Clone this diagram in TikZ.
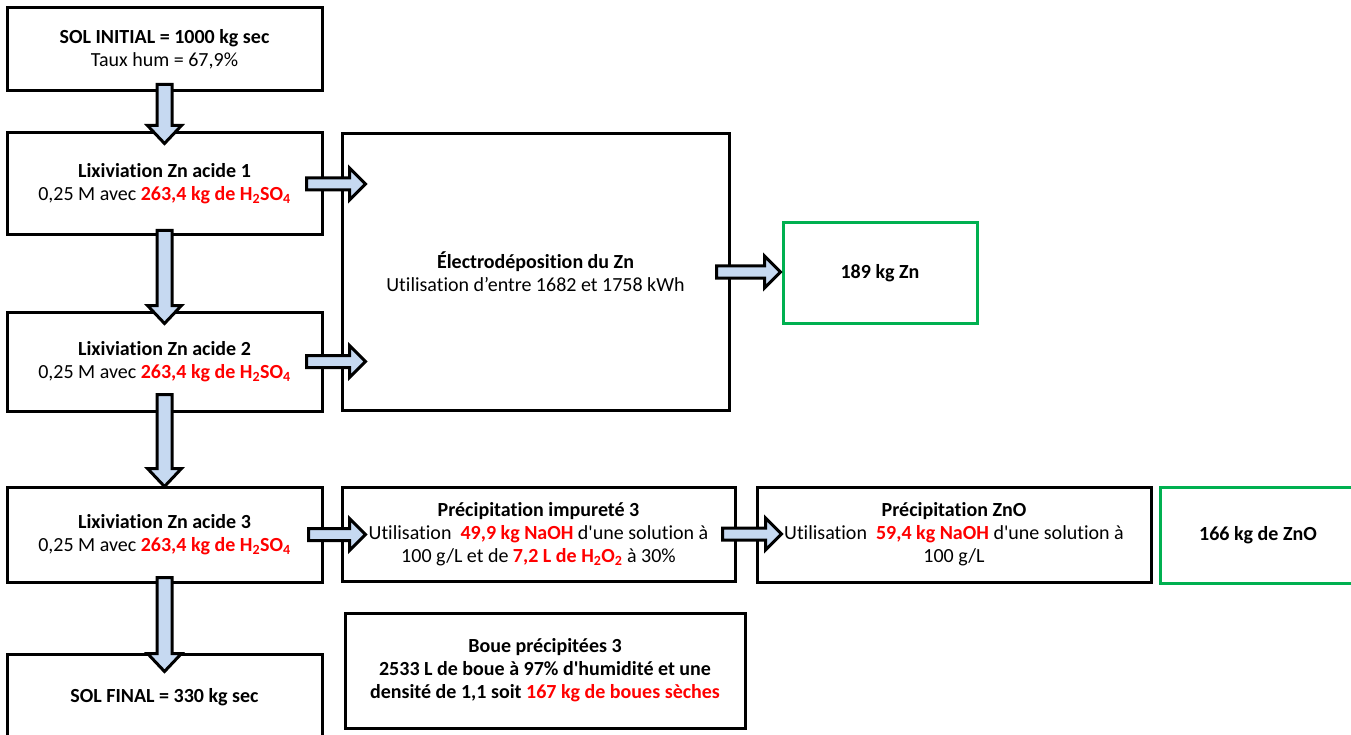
\documentclass[tikz,border=0pt]{standalone}
\usepackage{fontspec}
\setmainfont{Carlito}[Ligatures={TeX,NoCommon,NoContextual}, RawFeature={-liga;-clig;-dlig}]
\usetikzlibrary{
  positioning,
  calc
}
\definecolor{flux}{HTML}{C6D9F1}
\definecolor{rouge}{HTML}{FF0000}
\definecolor{vert}{HTML}{00B050}
\newcommand{\rouge}[1]{\textcolor{rouge}{\textbf{#1}}}

% block arrows: source, target, overlap into source, overlap into target
\newcommand{\flechebas}[4]{%
  \draw[fleche] let \p1=($(#1.south)+(0,-#3)$), \p2=($(#2.north)+(0,#4)$) in
    (\x1-7.5pt,\y1) -- (\x1+7.5pt,\y1) -- (\x1+7.5pt,\y2+18pt) -- (\x1+17pt,\y2+18pt)
    -- (\x1,\y2) -- (\x1-17pt,\y2+18pt) -- (\x1-7.5pt,\y2+18pt) -- cycle;}
\newcommand{\flechedroite}[4]{%
  \draw[fleche] let \p1=($(#1.east)+(-#3,0)$), \p2=($(#2.west)+(#4,0)$) in
    (\x1,\y1-6pt) -- (\x2-16pt,\y1-6pt) -- (\x2-16pt,\y1-16pt) -- (\x2,\y1)
    -- (\x2-16pt,\y1+16pt) -- (\x2-16pt,\y1+6pt) -- (\x1,\y1+6pt) -- cycle;}

\begin{document}
\begin{tikzpicture}[x=1pt, y=-1pt,
  font=\fontsize{20}{23}\selectfont,
  etape/.style={draw, line width=3pt, align=center, inner sep=0pt},
  sortie/.style={draw=vert, line width=3pt, align=center, inner sep=0pt, font=\fontsize{20}{23}\selectfont\bfseries},
  fleche/.style={draw=black, fill=flux, line width=3pt, line join=miter}]
  \useasboundingbox (0,0) rectangle (1351,735);

  % Left column
  \node[etape, minimum width=315pt, minimum height=83pt] (init) at (164.5, 49.5)
    {\textbf{SOL INITIAL = 1000 kg sec}\\Taux hum = 67,9\%};
  \node[etape, minimum width=315pt, minimum height=102pt] (lixA) at (164.5, 184)
    {\textbf{Lixiviation Zn acide 1}\\0,25 M avec \rouge{263,4 kg de H\textsubscript{2}SO\textsubscript{4}}};
  \node[etape, minimum width=315pt, minimum height=99pt] (lixB) at (164.5, 361.5)
    {\textbf{Lixiviation Zn acide 2}\\0,25 M avec \rouge{263,4 kg de H\textsubscript{2}SO\textsubscript{4}}};
  \node[etape, minimum width=315pt, minimum height=95pt] (lixC) at (164.5, 534.5)
    {\textbf{Lixiviation Zn acide 3}\\0,25 M avec \rouge{263,4 kg de H\textsubscript{2}SO\textsubscript{4}}};
  \node[etape, minimum width=315pt, minimum height=86pt] (final) at (164.5, 697)
    {\textbf{SOL FINAL = 330 kg sec}};

  % Zn recovery
  \node[etape, minimum width=387pt, minimum height=276pt] (electro) at (535.5, 272)
    {\textbf{Électrodéposition du Zn}\\Utilisation d’entre 1682 et 1758 kWh};
  \node[sortie, minimum width=194pt, minimum height=100pt] (zn) at (880, 273)
    {189 kg Zn};

  % Precipitation line
  \node[etape, minimum width=393pt, minimum height=94pt] (precA) at (538.5, 534)
    {\textbf{Précipitation impureté 3}\\Utilisation~ \rouge{49,9 kg NaOH} d\textquotesingle une solution à\\100 g/L et de \rouge{7,2 L de H\textsubscript{2}O\textsubscript{2}} à 30\%};
  \node[etape, minimum width=394pt, minimum height=95pt] (precB) at (954, 534.5)
    {\textbf{Précipitation ZnO}\\Utilisation~ \rouge{59,4 kg NaOH} d\textquotesingle une solution à\\100 g/L};
  \node[sortie, minimum width=196pt, minimum height=96pt] (zno) at (1258, 535)
    {166 kg de ZnO};
  \node[etape, minimum width=400pt, minimum height=115pt, font=\fontsize{20}{23}\selectfont\bfseries] (boue) at (545, 670.5)
    {Boue précipitées 3\\2533 L de boue à 97\% d\textquotesingle humidité et une\\densité de 1,1 soit \rouge{167 kg de boues sèches}};

  % Arrows
  \flechebas{init}{lixA}{8}{12}
  \flechebas{lixA}{lixB}{6}{13}
  \flechebas{lixB}{lixC}{18}{1}
  \flechebas{lixC}{final}{6}{19}
  \flechedroite{lixA}{electro}{17}{25}
  \flechedroite{lixB}{electro}{17}{25}
  \flechedroite{electro}{zn}{14}{-1}
  \flechedroite{lixC}{precA}{15}{25}
  \flechedroite{precA}{precB}{14}{26}
\end{tikzpicture}
\end{document}
